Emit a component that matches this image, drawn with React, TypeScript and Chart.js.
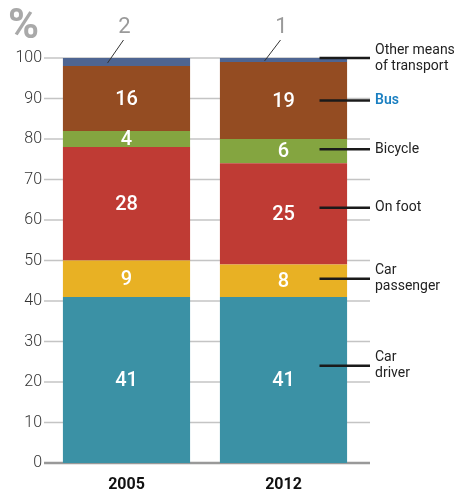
import React, { useEffect, useRef } from "react";
import { Chart, registerables } from "chart.js";

Chart.register(...registerables);

const years = ["2005", "2012"];
const modes = ["Car driver", "Car passenger", "On foot", "Bicycle", "Bus", "Other means of transport"];
const labelLines = [["Car", "driver"], ["Car", "passenger"], ["On foot"], ["Bicycle"], ["Bus"], ["Other means", "of transport"]];
const carDriver = [41, 41];
const carPassenger = [9, 8];
const onFoot = [28, 25];
const bicycle = [4, 6];
const bus = [16, 19];
const other = [2, 1];
const yTicks = [0, 10, 20, 30, 40, 50, 60, 70, 80, 90, 100];
// where each right-hand label's leader line points, in % units on the y scale
const leaderAt = [24, 45.5, 63, 77.5, 89.5, 100];
const colors = ["#3b91a5", "#e8b124", "#bf3b34", "#84a540", "#944c22", "#4e6592"];

const FONT = "Roboto, 'DejaVu Sans', sans-serif";

const annotate = {
  id: "annotate",
  beforeDatasetsDraw(chart: any) {
    const { ctx, chartArea, scales } = chart;
    const y = scales.y;
    ctx.save();
    yTicks.forEach((v) => {
      const py = y.getPixelForValue(v);
      ctx.strokeStyle = v === 0 ? "#999" : "#c4c4c4";
      ctx.lineWidth = v === 0 ? 2.5 : 1.5;
      ctx.beginPath();
      ctx.moveTo(chartArea.left - 4, py);
      ctx.lineTo(chartArea.right + 8, py);
      ctx.stroke();
    });
    ctx.restore();
  },
  afterDatasetsDraw(chart: any) {
    const { ctx, chartArea, scales } = chart;
    ctx.save();
    // % sign
    ctx.fillStyle = "#a9a9a9";
    ctx.font = `bold 42px ${FONT}`;
    ctx.textAlign = "left";
    ctx.textBaseline = "alphabetic";
    ctx.fillText("%", 8, 38);

    const nds = chart.data.datasets.length;
    for (let d = 0; d < nds; d++) {
      const meta = chart.getDatasetMeta(d);
      const data = chart.data.datasets[d].data as number[];
      meta.data.forEach((bar: any, i: number) => {
        const { x, y, base } = bar.getProps(["x", "y", "base"], true);
        const mid = (y + base) / 2;
        if (d < nds - 1) {
          ctx.fillStyle = "#ffffff";
          ctx.font = `500 20px ${FONT}`;
          ctx.textAlign = "center";
          ctx.textBaseline = "middle";
          ctx.fillText(String(data[i]), x, mid + 1);
        } else {
          const lx = x - 2;
          ctx.fillStyle = "#9a9a9a";
          ctx.font = `22px ${FONT}`;
          ctx.textAlign = "center";
          ctx.textBaseline = "middle";
          ctx.fillText(String(data[i]), lx, 27);
          ctx.strokeStyle = "#333";
          ctx.lineWidth = 1;
          ctx.beginPath();
          ctx.moveTo(lx - 1, 40);
          ctx.lineTo(x - 19, mid + 1);
          ctx.stroke();
        }
        if (i === 1) {
          const ly = scales.y.getPixelForValue(leaderAt[d]);
          ctx.strokeStyle = "#1a1a1a";
          ctx.lineWidth = 2.5;
          ctx.beginPath();
          ctx.moveTo(x + 36, ly);
          ctx.lineTo(chartArea.right + 8, ly);
          ctx.stroke();
          const lines = labelLines[d];
          const isBus = modes[d] === "Bus";
          ctx.fillStyle = isBus ? "#1a7fc1" : "#222";
          ctx.font = isBus ? `600 14px ${FONT}` : `14px ${FONT}`;
          ctx.textAlign = "left";
          ctx.textBaseline = "middle";
          const lh = 16;
          lines.forEach((t, k) => {
            ctx.fillText(t, chartArea.right + 13, ly + (k - (lines.length - 1) / 2) * lh);
          });
        }
      });
    }
    ctx.restore();
  },
};

export default function App() {
  const ref = useRef<HTMLCanvasElement | null>(null);
  useEffect(() => {
    document.body.style.margin = "0";
    const series = [carDriver, carPassenger, onFoot, bicycle, bus, other];
    const chart = new Chart(ref.current!, {
      type: "bar",
      data: {
        labels: years,
        datasets: series.map((s, i) => ({
          label: modes[i],
          data: s,
          backgroundColor: colors[i],
          borderWidth: 0,
          barPercentage: 0.81,
          categoryPercentage: 1,
        })),
      },
      options: {
        animation: false,
        responsive: false,
        maintainAspectRatio: false,
        layout: { padding: { top: 58, right: 96, left: 0, bottom: 0 } },
        plugins: { legend: { display: false }, tooltip: { enabled: false } },
        scales: {
          x: {
            stacked: true,
            grid: { display: false, drawTicks: false },
            border: { display: false },
            ticks: { font: { family: FONT, size: 16, weight: "bold" }, color: "#111", padding: 12 },
            afterFit: (s: any) => { s.height = 29; },
          },
          y: {
            stacked: true,
            min: 0,
            max: 100,
            grid: { display: false, drawTicks: false },
            border: { display: false },
            ticks: {
              stepSize: 10,
              font: { family: FONT, size: 16, weight: "300" },
              color: "#333",
              padding: 6,
            },
            afterFit: (s: any) => { s.width = 48; },
          },
        },
      },
      plugins: [annotate],
    });
    return () => chart.destroy();
  }, []);
  return (
    <div style={{ position: "fixed", left: 0, top: 0, width: 458, height: 492 }}>
      <canvas ref={ref} width={458} height={492} style={{ width: 458, height: 492 }} />
    </div>
  );
}
